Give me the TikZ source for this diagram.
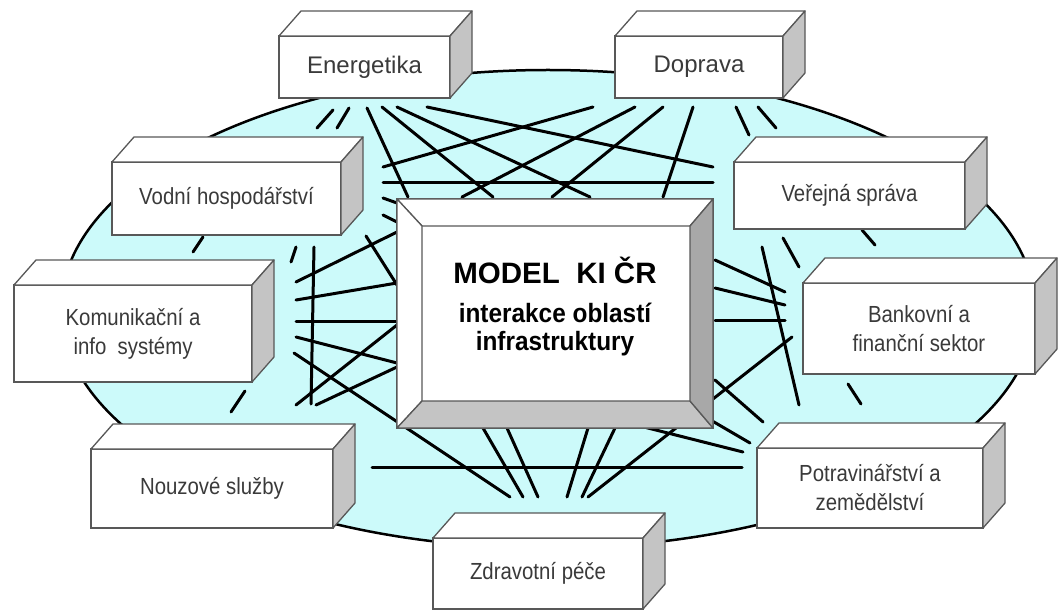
\documentclass[tikz,border=0pt]{standalone}
\usepackage{fontspec}
\setmainfont{Liberation Sans}
\newfontfamily\narrowfont{Liberation Sans}[FakeStretch = 0.875]
\newfontfamily\titlefont{Liberation Sans}[FakeStretch = 0.92]
\usetikzlibrary{calc}

\definecolor{sea}{RGB}{204,250,250}
\definecolor{rim}{RGB}{88,88,88}
\definecolor{shade}{RGB}{196,196,196}
\definecolor{darkshade}{RGB}{168,168,168}
\definecolor{labeltext}{RGB}{58,58,58}

\begin{document}
\begin{tikzpicture}[x = 1pt, y = -1pt,
		sector/.style = {draw = rim, line width = 1.3pt, fill = white, inner sep = 0pt, outer sep = 0pt,
			align = center, text = labeltext, font = \narrowfont\fontsize{23.3}{29}\selectfont},
		topface/.style = {draw = rim, line width = 1.3pt, fill = white, line join = round},
		sideface/.style = {draw = rim, line width = 1.3pt, fill = shade, line join = round},
		link/.style = {line width = 3pt, line cap = round}]
	\useasboundingbox (0, 0) rectangle (1059, 612);
	
	% Field
	\draw[fill = sea, line width = 2.5pt] (548, 309) ellipse [x radius = 487pt, y radius = 239pt];
	
	% Edges
	\foreach \xa/\ya/\xb/\yb in {
			317/128/333/110, 337/128/349/108, 193/252/203/237, 291/262/296/247, 231/412/245/391,
			383/198/397/203, 383/215/397/222, 736/107/749/135, 758/107/776/128, 862/230/875/245,
			783/238/799/267, 848/384/861/404,
			367/108/408/197, 382/107/493/197, 397/107/590/197, 427/107/713/167,
			593/107/383/167, 635/107/462/197, 663/107/552/197, 693/107/663/197, 383/183/713/183,
			296/282/397/232, 296/300/397/283, 314/247/311/404, 366/236/397/285, 296/321/397/321,
			296/337/397/363, 294/353/510/497, 296/405/397/325, 316/405/397/367,
			715/260/785/292, 715/288/785/305, 715/320/785/320, 762/247/799/405, 715/380/763/422,
			588/497/792/337, 690/408/750/443, 640/426/743/452,
			372/467/742/467, 483/428/523/497, 507/428/538/497, 588/428/567/497, 615/428/582/497}
		\draw[link] (\xa, \ya) -- (\xb, \yb);
	
	% Nodes
	\node[sector, minimum width = 171pt, minimum height = 62pt, font = \fontsize{24}{29}\selectfont] (ener) at (364.5, 67) {Energetika};
	\node[sector, minimum width = 168pt, minimum height = 62pt, font = \fontsize{24}{29}\selectfont] (dopr) at (699, 67) {Doprava};
	\node[sector, minimum width = 229pt, minimum height = 73pt] (vodni) at (226.5, 198.5) {Vodní hospodářství};
	\node[sector, minimum width = 231pt, minimum height = 67pt] (verej) at (849.5, 195.5) {Veřejná správa};
	\node[sector, minimum width = 238pt, minimum height = 97pt] (komun) at (133, 333.5) {Komunikační a\\info~ systémy};
	\node[sector, minimum width = 232pt, minimum height = 91pt] (bank) at (919, 328.5) {Bankovní a\\finanční sektor};
	\node[sector, minimum width = 242pt, minimum height = 79pt] (nouz) at (212, 488.5) {Nouzové služby};
	\node[sector, minimum width = 226pt, minimum height = 80pt] (potr) at (870, 488) {Potravinářství a\\zemědělství};
	\node[sector, minimum width = 210pt, minimum height = 71pt] (zdrav) at (538, 573.5) {Zdravotní péče};
	
	\foreach \n in {ener, dopr, vodni, verej, komun, bank, nouz, potr, zdrav} {
		\draw[topface] (\n.north west) -- ++(22, -25) -- ($(\n.north east) + (22, -25)$) -- (\n.north east) -- cycle;
		\draw[sideface] (\n.north east) -- ++(22, -25) -- ($(\n.south east) + (22, -25)$) -- (\n.south east) -- cycle;
	}
	
	% Model
	\node[sector, minimum width = 316pt, minimum height = 229pt] (model) at (555, 313.5) {};
	\coordinate (m1) at ($(model.north west) + (25, 27)$);
	\coordinate (m2) at ($(model.north east) + (-23, 27)$);
	\coordinate (m3) at ($(model.south east) + (-23, -27)$);
	\coordinate (m4) at ($(model.south west) + (25, -27)$);
	\draw[topface] (model.north west) -- (model.north east) -- (m2) -- (m1) -- cycle;
	\draw[topface] (model.north west) -- (m1) -- (m4) -- (model.south west) -- cycle;
	\draw[sideface] (model.south west) -- (m4) -- (m3) -- (model.south east) -- cycle;
	\draw[sideface, fill = darkshade] (model.north east) -- (model.south east) -- (m3) -- (m2) -- cycle;
	\node[align = center, font = \titlefont\fontsize{26.5}{28}\selectfont\bfseries] (title) at (555, 307)
		{{\setmainfont{Liberation Sans}\fontsize{29.5}{35}\selectfont\bfseries MODEL~~KI ČR}\\[11pt]interakce oblastí\\infrastruktury};
\end{tikzpicture}
\end{document}
